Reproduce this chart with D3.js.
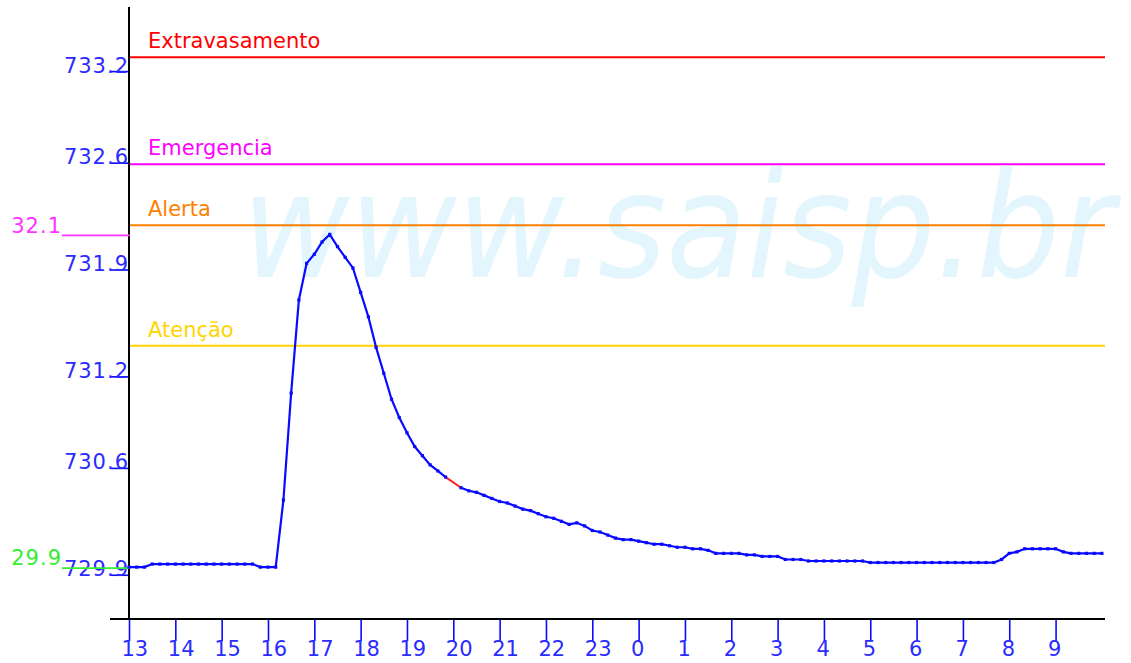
<!DOCTYPE html>
<html>
<head>
<meta charset="utf-8">
<script src="https://cdn.jsdelivr.net/npm/d3@7"></script>
<style>
  body { margin: 0; background: #fff; }
  text { font-family: "DejaVu Sans", sans-serif; }
</style>
</head>
<body>
<script>
const w = 1131;
const h = 663;

// level readings, one every 10 minutes from 13:00 (null = missing reading)
const startTime = new Date(2000, 0, 1, 13, 0);
const stepMinutes = 10;
const levels = [
  729.95, 729.95, 729.95, 729.97, 729.97, 729.97, 729.97, 729.97, 729.97, 729.97,
  729.97, 729.97, 729.97, 729.97, 729.97, 729.97, 729.97, 729.95, 729.95, 729.95,
  730.39, 731.09, 731.70, 731.94, 732.00, 732.08, 732.13, 732.05, 731.98, 731.91,
  731.75, 731.59, 731.39, 731.22, 731.05, 730.93, 730.83, 730.74, 730.68, 730.62,
  730.58, 730.54, null,   730.47, 730.45, 730.44, 730.42, 730.40, 730.38, 730.37,
  730.35, 730.33, 730.32, 730.30, 730.28, 730.27, 730.25, 730.23, 730.24, 730.22,
  730.19, 730.18, 730.16, 730.14, 730.13, 730.13, 730.12, 730.11, 730.10, 730.10,
  730.09, 730.08, 730.08, 730.07, 730.07, 730.06, 730.04, 730.04, 730.04, 730.04,
  730.03, 730.03, 730.02, 730.02, 730.02, 730.00, 730.00, 730.00, 729.99, 729.99,
  729.99, 729.99, 729.99, 729.99, 729.99, 729.99, 729.98, 729.98, 729.98, 729.98,
  729.98, 729.98, 729.98, 729.98, 729.98, 729.98, 729.98, 729.98, 729.98, 729.98,
  729.98, 729.98, 729.98, 730.00, 730.04, 730.05, 730.07, 730.07, 730.07, 730.07,
  730.07, 730.05, 730.04, 730.04, 730.04, 730.04, 730.04
];

// alert levels
const refNames = ['Extravasamento', 'Emergencia', 'Alerta', 'Atenção'];
const refValues = [733.29, 732.59, 732.19, 731.40];
const refColors = ['#ff0000', '#ff00ff', '#ff8000', '#ffd400'];

const yTickValues = [733.2, 732.6, 731.9, 731.2, 730.6, 729.9];
const yTickLabels = ['733.2', '732.6', '731.9', '731.2', '730.6', '729.9'];
const xTickLabels = ['13', '14', '15', '16', '17', '18', '19', '20', '21', '22', '23',
                     '0', '1', '2', '3', '4', '5', '6', '7', '8', '9'];
const maxLabel = '32.1';
const minLabel = '29.9';

const blue = '#0a0aff';
const textBlue = '#2b2bff';

let data = levels.map((v, i) => ({
  t: new Date(startTime.getTime() + i * stepMinutes * 60000),
  v: v
}));
let endTime = new Date(startTime.getTime() + (21 * 60 + 4) * 60000);

let svg = d3.select('body')
  .append('svg')
  .attr('width', w)
  .attr('height', h);

let xScale = d3.scaleTime()
  .domain([startTime, endTime])
  .range([129, 1105]);

let yScale = d3.scaleLinear()
  .domain([729.61, 733.62])
  .range([619, 7]);

// watermark
svg.append('text')
  .attr('transform', 'translate(242,277) scale(0.9,1)')
  .attr('font-size', 146)
  .attr('font-style', 'italic')
  .attr('fill', '#e3f5fd')
  .text('www.saisp.br');

// alert lines
refValues.forEach((v, i) => {
  svg.append('line')
    .attr('x1', 129).attr('x2', 1105)
    .attr('y1', yScale(v)).attr('y2', yScale(v))
    .attr('stroke', refColors[i])
    .attr('stroke-width', 2);
  svg.append('text')
    .attr('x', 148)
    .attr('y', yScale(v) - 9)
    .attr('font-size', 21)
    .attr('fill', refColors[i])
    .text(refNames[i]);
});

// axes
let hours = d3.timeHour.range(startTime, endTime).slice(0, xTickLabels.length);
let xAxis = d3.axisBottom(xScale)
  .tickValues(hours)
  .tickSize(22)
  .tickFormat((d, i) => xTickLabels[i]);

svg.append('g')
  .attr('transform', 'translate(0,619)')
  .call(xAxis)
  .call(g => g.select('.domain').remove())
  .call(g => g.selectAll('.tick line').attr('stroke', blue).attr('stroke-width', 1.6))
  .call(g => g.selectAll('.tick text')
    .attr('fill', textBlue)
    .attr('font-size', 21)
    .attr('font-family', 'DejaVu Sans')
    .attr('text-anchor', 'start')
    .attr('x', -8)
    .attr('y', 37)
    .attr('dy', 0));

let yAxis = d3.axisLeft(yScale)
  .tickValues(yTickValues)
  .tickSize(19)
  .tickFormat((d, i) => yTickLabels[i]);

svg.append('g')
  .attr('transform', 'translate(129,0)')
  .call(yAxis)
  .call(g => g.select('.domain').remove())
  .call(g => g.selectAll('.tick line').attr('stroke', blue).attr('stroke-width', 1.6))
  .call(g => g.selectAll('.tick text')
    .attr('fill', textBlue)
    .attr('font-size', 21)
    .attr('font-family', 'DejaVu Sans')
    .attr('letter-spacing', 1)
    .attr('text-anchor', 'end')
    .attr('x', 0)
    .attr('y', 1)
    .attr('dy', 0));

svg.append('line')
  .attr('x1', 110).attr('x2', 1105)
  .attr('y1', 619).attr('y2', 619)
  .attr('stroke', '#000').attr('stroke-width', 2);
svg.append('line')
  .attr('x1', 129).attr('x2', 129)
  .attr('y1', 7).attr('y2', 619)
  .attr('stroke', '#000').attr('stroke-width', 2);

// max / min markers on the left
let maxV = d3.max(levels);
let minV = d3.min(levels);
svg.append('line')
  .attr('x1', 62).attr('x2', 130)
  .attr('y1', yScale(maxV) + 1).attr('y2', yScale(maxV) + 1)
  .attr('stroke', '#ff33ff').attr('stroke-width', 1.6);
svg.append('text')
  .attr('x', 62).attr('y', yScale(maxV) - 1)
  .attr('text-anchor', 'end')
  .attr('font-size', 21)
  .attr('letter-spacing', 1)
  .attr('fill', '#ff33ff')
  .text(maxLabel);
svg.append('line')
  .attr('x1', 62).attr('x2', 130)
  .attr('y1', yScale(minV) + 1).attr('y2', yScale(minV) + 1)
  .attr('stroke', '#33ee33').attr('stroke-width', 1.6);
svg.append('text')
  .attr('x', 62).attr('y', yScale(minV) - 2)
  .attr('text-anchor', 'end')
  .attr('font-size', 21)
  .attr('letter-spacing', 1)
  .attr('fill', '#33ee33')
  .text(minLabel);

// missing readings bridged in red
data.forEach((d, i) => {
  if (d.v === null && i > 0 && i < data.length - 1) {
    svg.append('line')
      .attr('x1', xScale(data[i - 1].t)).attr('y1', yScale(data[i - 1].v))
      .attr('x2', xScale(data[i + 1].t)).attr('y2', yScale(data[i + 1].v))
      .attr('stroke', '#ff2020').attr('stroke-width', 2);
  }
});

let line = d3.line()
  .defined(d => d.v !== null)
  .x(d => xScale(d.t))
  .y(d => yScale(d.v));

svg.append('path')
  .datum(data)
  .attr('d', line)
  .attr('fill', 'none')
  .attr('stroke', blue)
  .attr('stroke-width', 2.2);

svg.selectAll('rect.pt')
  .data(data.filter(d => d.v !== null))
  .enter()
  .append('rect')
  .attr('class', 'pt')
  .attr('x', d => xScale(d.t) - 1.6)
  .attr('y', d => yScale(d.v) - 1.6)
  .attr('width', 3.2)
  .attr('height', 3.2)
  .attr('fill', blue);
</script>
</body>
</html>
